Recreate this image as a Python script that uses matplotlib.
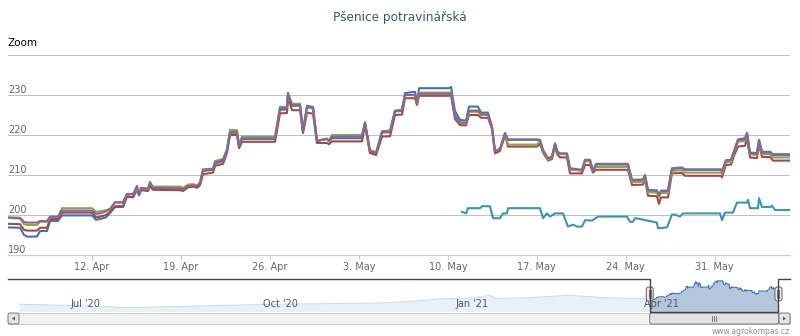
# Psenice potravinarska - highstock-like chart with navigator
import numpy as np
import pandas as pd
import matplotlib
matplotlib.use('Agg')
import matplotlib.pyplot as plt
import matplotlib.dates as mdates
from matplotlib.ticker import FuncFormatter
from matplotlib.patches import FancyBboxPatch, Rectangle, Polygon

# Data (days after 2021-04-01)
base = pd.Timestamp('2021-04-01')
days = [4.39, 5.34, 5.65, 5.89, 6.67, 6.91, 7.46, 7.70, 8.32, 8.64,
        11.00, 11.31, 11.63, 12.10, 12.42, 12.81, 13.44, 13.75, 14.23, 14.54,
        14.70, 14.86, 15.41, 15.56, 15.80, 17.92, 18.16, 18.55, 18.95, 19.26,
        19.50, 19.73, 20.52, 20.68, 21.31, 21.62, 21.86, 22.41, 22.57, 22.80,
        25.40, 25.79, 26.34, 26.42, 26.74, 27.37, 27.60, 27.92, 28.39, 28.70,
        29.49, 29.65, 29.88, 32.24, 32.48, 32.87, 33.35, 33.50, 33.82, 34.45,
        34.84, 35.39, 35.63, 36.41, 36.57, 36.73, 39.09, 39.25, 39.56, 39.95,
        40.43, 40.66, 41.37, 41.61, 42.16, 42.47, 42.71, 43.10, 43.50, 43.73,
        46.01, 46.25, 46.49, 46.88, 47.19, 47.43, 47.59, 47.82, 48.37, 48.61,
        49.55, 49.79, 50.18, 50.42, 50.66, 53.17, 53.49, 54.35, 54.51, 54.75,
        55.45, 55.61, 55.77, 56.32, 56.63, 57.42, 57.66, 60.49, 60.57, 60.88,
        61.28, 61.51, 61.83, 62.38, 62.54, 62.77, 63.32, 63.48, 63.72, 64.35,
        64.58, 65.92]

blue = [196.9, 196.8, 195.0, 194.6, 194.6, 196.0, 196.0, 198.5, 198.5, 199.9,
        199.9, 198.8, 199.0, 199.4, 200.5, 202.0, 202.0, 204.7, 204.4, 206.8,
        205.0, 206.6, 206.4, 207.5, 206.5, 206.4, 206.3, 207.0, 207.2, 207.0,
        207.8, 211.0, 211.3, 212.9, 213.5, 216.0, 220.5, 220.6, 217.0, 219.0,
        219.0, 226.3, 226.4, 230.0, 227.3, 227.3, 220.8, 227.3, 227.0, 218.5,
        219.0, 218.4, 219.2, 219.2, 223.0, 215.7, 215.2, 216.8, 220.6, 220.7,
        225.9, 226.0, 230.5, 230.8, 228.3, 231.7, 231.7, 232.0, 226.0, 223.8,
        223.6, 227.1, 227.1, 225.6, 225.6, 222.0, 215.7, 216.3, 220.2, 218.8,
        218.8, 218.6, 216.0, 213.9, 214.5, 217.9, 215.8, 215.3, 215.3, 211.4,
        211.1, 213.7, 213.7, 211.0, 212.6, 212.6, 208.5, 208.6, 209.8, 206.0,
        205.9, 204.8, 205.9, 205.9, 211.5, 211.7, 211.3, 211.3, 210.8, 213.6,
        213.8, 216.0, 218.9, 219.2, 220.6, 215.6, 215.5, 218.8, 215.8, 215.8,
        215.2, 215.2]

red = [197.8, 197.7, 196.3, 196.1, 196.1, 196.8, 196.8, 199.0, 199.0, 200.6,
       200.6, 199.4, 199.6, 200.0, 200.8, 202.2, 202.2, 204.6, 204.5, 206.3,
       204.9, 206.2, 206.0, 207.2, 206.3, 206.2, 206.0, 206.9, 207.1, 206.8,
       207.5, 210.2, 210.6, 212.3, 212.8, 215.6, 220.0, 220.0, 216.7, 218.3,
       218.3, 225.4, 225.5, 229.5, 226.2, 226.2, 220.5, 225.6, 225.3, 218.0,
       218.0, 217.7, 218.4, 218.4, 222.5, 215.5, 215.0, 216.5, 219.6, 219.7,
       225.0, 225.1, 229.2, 229.2, 227.5, 229.8, 229.8, 229.9, 224.0, 222.5,
       222.4, 225.0, 225.0, 224.3, 224.3, 221.5, 215.4, 216.0, 220.0, 217.1,
       217.1, 217.8, 215.6, 213.6, 214.0, 217.2, 215.3, 214.4, 214.4, 210.4,
       210.4, 212.5, 212.5, 210.6, 211.3, 211.3, 207.5, 207.6, 209.0, 204.8,
       204.7, 202.8, 204.4, 204.4, 210.4, 210.5, 209.8, 209.8, 209.4, 212.5,
       212.6, 214.8, 217.1, 217.3, 219.2, 214.4, 214.2, 217.6, 214.5, 214.5,
       213.6, 213.6]

green = [199.3, 199.1, 197.7, 197.5, 197.5, 198.3, 198.3, 199.5, 199.5, 201.7,
         201.7, 200.8, 200.9, 201.2, 201.5, 203.1, 203.1, 205.2, 205.3, 206.5,
         205.5, 206.7, 206.5, 208.3, 207.1, 207.1, 206.8, 207.6, 207.7, 207.4,
         208.2, 211.4, 211.6, 213.5, 214.0, 216.5, 221.3, 221.2, 217.6, 219.6,
         219.6, 227.1, 227.0, 230.0, 227.8, 227.8, 221.2, 226.9, 226.6, 218.6,
         219.0, 218.5, 220.0, 220.0, 223.0, 216.1, 215.6, 217.5, 221.0, 221.1,
         226.0, 226.3, 230.0, 230.0, 228.0, 230.6, 230.6, 230.7, 224.7, 223.0,
         222.8, 225.8, 225.8, 225.0, 225.0, 222.0, 215.9, 216.5, 220.4, 217.6,
         217.6, 218.5, 216.0, 213.8, 214.5, 217.7, 215.8, 215.2, 215.2, 211.5,
         211.1, 213.4, 213.4, 211.0, 212.0, 212.0, 208.2, 208.3, 209.6, 205.7,
         205.6, 204.5, 205.5, 205.5, 211.0, 211.2, 210.6, 210.6, 210.3, 213.2,
         213.3, 215.5, 218.3, 218.5, 220.0, 215.2, 215.0, 218.3, 215.2, 215.2,
         214.4, 214.4]

purple = [199.4, 199.3, 198.3, 198.1, 198.1, 198.5, 198.5, 199.6, 199.6, 201.1,
          201.1, 200.3, 200.4, 200.9, 201.5, 203.2, 203.2, 205.3, 205.2, 207.3,
          205.0, 206.8, 206.6, 208.0, 206.8, 206.7, 206.5, 207.2, 207.4, 207.2,
          208.0, 211.3, 211.5, 213.1, 213.8, 216.2, 220.7, 220.8, 217.2, 219.2,
          219.2, 226.7, 226.8, 230.6, 227.5, 227.5, 221.0, 227.1, 226.8, 218.5,
          219.1, 218.6, 219.6, 219.6, 223.2, 216.2, 215.6, 217.1, 220.8, 220.9,
          226.1, 226.2, 230.0, 230.0, 227.9, 230.3, 230.3, 230.4, 224.8, 223.2,
          223.0, 226.1, 226.1, 225.2, 225.2, 222.0, 215.9, 216.6, 220.5, 218.9,
          218.9, 218.8, 216.3, 214.2, 214.6, 217.9, 216.0, 215.4, 215.4, 211.7,
          211.3, 213.8, 213.8, 211.0, 212.8, 212.8, 208.8, 208.9, 210.0, 206.3,
          206.2, 205.0, 206.1, 206.1, 211.7, 211.9, 211.4, 211.4, 210.8, 213.7,
          213.8, 215.8, 218.7, 218.9, 220.4, 215.4, 215.3, 218.7, 215.6, 215.6,
          215.0, 215.0]

teal_days = [40.11, 40.43, 40.58, 41.53, 41.69, 42.31, 42.55, 43.10, 43.34, 43.65,
             43.73, 46.25, 46.49, 46.80, 47.04, 47.43, 48.06, 48.45, 48.85, 49.16,
             49.55, 49.79, 50.34, 50.81, 53.09, 53.33, 53.57, 53.72, 53.96, 55.45,
             55.53, 55.93, 56.24, 56.63, 56.87, 57.26, 57.50, 60.41, 60.57, 60.80,
             61.43, 61.75, 62.54, 62.61, 62.77, 63.40, 63.48, 63.72, 64.35, 64.50,
             64.74, 65.92]
teal = [200.8, 200.4, 201.7, 201.7, 202.2, 202.2, 199.2, 199.2, 200.4, 200.4,
        201.7, 201.7, 199.2, 200.4, 199.6, 200.4, 200.4, 197.1, 197.6, 197.1,
        197.1, 198.7, 198.6, 199.6, 199.6, 198.3, 198.3, 199.2, 199.1, 198.1,
        196.7, 196.8, 196.9, 200.1, 200.1, 199.6, 200.4, 200.4, 198.7, 200.6,
        200.6, 203.1, 203.1, 203.8, 201.7, 201.7, 204.2, 202.0, 202.0, 202.3,
        201.25, 201.25]

# navigator history before the zoomed window (first series)
nav_hist_dates = ['2020-06-08', '2020-06-23', '2020-07-01', '2020-07-17', '2020-07-31',
                  '2020-08-14', '2020-09-02', '2020-09-21', '2020-10-02', '2020-10-20',
                  '2020-11-08', '2020-11-28', '2020-12-12', '2020-12-26', '2021-01-10',
                  '2021-01-19', '2021-01-22', '2021-02-07', '2021-02-26', '2021-03-13',
                  '2021-03-27']
nav_hist_vals = [184.9, 183.5, 182.5, 180.5, 178.1, 179.5, 181.5, 183.5, 184.5, 185.5,
                 186.5, 187.5, 190.5, 195.5, 197.5, 202.9, 196.5, 198.1, 202.9, 198.5,
                 196.5]

yticks = [190, 200, 210, 220, 230, 240]
ylabels = ['190', '200', '210', '220', '230', '']

main_t = (base + pd.to_timedelta(days, unit='D')).to_pydatetime()
teal_t = (base + pd.to_timedelta(teal_days, unit='D')).to_pydatetime()
sel_start, sel_end = main_t[0], main_t[-1]

nav_t = list(pd.to_datetime(nav_hist_dates).to_pydatetime()) + list(main_t)
nav_v = nav_hist_vals + blue
nav_start = pd.Timestamp('2020-06-02 18:00').to_pydatetime()
nav_end = pd.Timestamp('2021-06-11 10:00').to_pydatetime()

fig = plt.figure(figsize=(8, 3.36), dpi=100)

# main plot
ax = fig.add_axes([8/800, 81/336, 782/800, 200/336])
for vals, col in [(blue, '#4572A7'), (red, '#AA4643'), (green, '#89A54E'), (purple, '#80699B')]:
    ax.plot(main_t, vals, color=col, lw=1.5, solid_joinstyle='round', zorder=3)
ax.plot(teal_t, teal, color='#3D96AE', lw=1.5, solid_joinstyle='round', zorder=3)

ax.set_xlim(sel_start, sel_end)
ax.set_ylim(190, 240)
ax.set_yticks(yticks, ylabels, ha='left', va='bottom')
ax.tick_params(axis='y', length=0, pad=0, labelsize=7, labelcolor='#666666')
ax.grid(axis='y', color='#C0C0C0', lw=0.72)
ax.set_axisbelow(True)
for s in ['top', 'right', 'left']:
    ax.spines[s].set_visible(False)
ax.spines['bottom'].set_color('#C0D0E0')
ax.spines['bottom'].set_linewidth(0.9)
ax.xaxis.set_major_locator(mdates.WeekdayLocator(byweekday=mdates.MO))
ax.xaxis.set_major_formatter(FuncFormatter(
    lambda v, p: f"{mdates.num2date(v).day}. {mdates.num2date(v):%b}"))
ax.tick_params(axis='x', length=3.6, width=0.72, color='#C0D0E0', pad=1.5,
               labelsize=7, labelcolor='#666666')

# navigator
axn = fig.add_axes([8/800, 24.5/336, 782/800, 32.8/336])
axn.fill_between(nav_t, nav_v, 170.5, color='#4572A7', alpha=0.4, lw=0, zorder=2)
axn.plot(nav_t, nav_v, color='#4572A7', lw=0.8, zorder=2)
axn.set_xlim(nav_start, nav_end)
axn.set_ylim(170.5, 236)
axn.xaxis.set_major_locator(mdates.MonthLocator(bymonth=(1, 4, 7, 10)))
axn.grid(axis='x', color='#EEEEEE', lw=0.72)
axn.set_axisbelow(True)
axn.tick_params(length=0, labelbottom=False, labelleft=False)
for s in axn.spines.values():
    s.set_visible(False)
axn.axvspan(nav_start, sel_start, color='white', alpha=0.75, lw=0, zorder=3)
axn.axvspan(sel_end, nav_end, color='white', alpha=0.75, lw=0, zorder=3)
for d in pd.date_range('2020-07-01', '2021-04-01', freq='QS-JAN'):
    axn.annotate(f"{d:%b} '{d:%y}", xy=(d.to_pydatetime(), 0),
                 xycoords=('data', 'axes fraction'), xytext=(2.2, 1.5),
                 textcoords='offset points', fontsize=7, color='#555555',
                 ha='left', va='bottom', zorder=5)

# overlay in pixel coordinates for navigator outline / scrollbar
ov = fig.add_axes([0, 0, 1, 1], zorder=10)
ov.set_xlim(0, 800)
ov.set_ylim(336, 0)
ov.axis('off')
x0 = axn.transData.transform((mdates.date2num(sel_start), 0))[0]
x1 = axn.transData.transform((mdates.date2num(sel_end), 0))[0]

ov.plot([8, x0, x0, x1, x1, 790], [279, 279, 312, 312, 279, 279],
        color='#444444', lw=1)

# scrollbar
ov.add_patch(Rectangle((8, 313), 782, 11, fc='#F2F2F2', ec='#CCCCCC', lw=0.7))
for bx in [8, 779]:
    ov.add_patch(FancyBboxPatch((bx, 313), 11, 11,
                                boxstyle='round,pad=0,rounding_size=2',
                                fc='#E4E4E4', ec='#777777', lw=0.7))
ov.add_patch(Polygon([[12, 318.5], [15, 316.5], [15, 320.5]], fc='#555555', ec='none'))
ov.add_patch(Polygon([[786, 318.5], [783, 316.5], [783, 320.5]], fc='#555555', ec='none'))
ov.add_patch(FancyBboxPatch((x0, 313), x1 - x0, 11,
                            boxstyle='round,pad=0,rounding_size=2',
                            fc='#E2E2E2', ec='#777777', lw=0.7))
xm = (x0 + x1) / 2
for dx in [-2, 0, 2]:
    ov.plot([xm + dx, xm + dx], [316, 321], color='#666666', lw=0.6)

# navigator handles
for hx in [x0, x1]:
    ov.add_patch(FancyBboxPatch((hx - 3.5, 287), 7, 14,
                                boxstyle='round,pad=0,rounding_size=2.5',
                                fc='#EBE7E8', ec='#666666', lw=0.7))
    for dx in [-1, 1]:
        ov.plot([hx + dx, hx + dx], [290, 298], color='#666666', lw=0.6)

# texts
fig.text(0.5, 1 - 17/336, 'Pšenice potravinářská', ha='center', va='center',
         fontsize=8.7, color='#3E576F')
fig.text(8/800, 1 - 43/336, 'Zoom', ha='left', va='center', fontsize=7.5, color='#000000')
fig.text(790/800, 1 - 331/336, 'www.agrokompas.cz', ha='right', va='center',
         fontsize=5.5, color='#909090')

fig.savefig('out.png', dpi=100)
